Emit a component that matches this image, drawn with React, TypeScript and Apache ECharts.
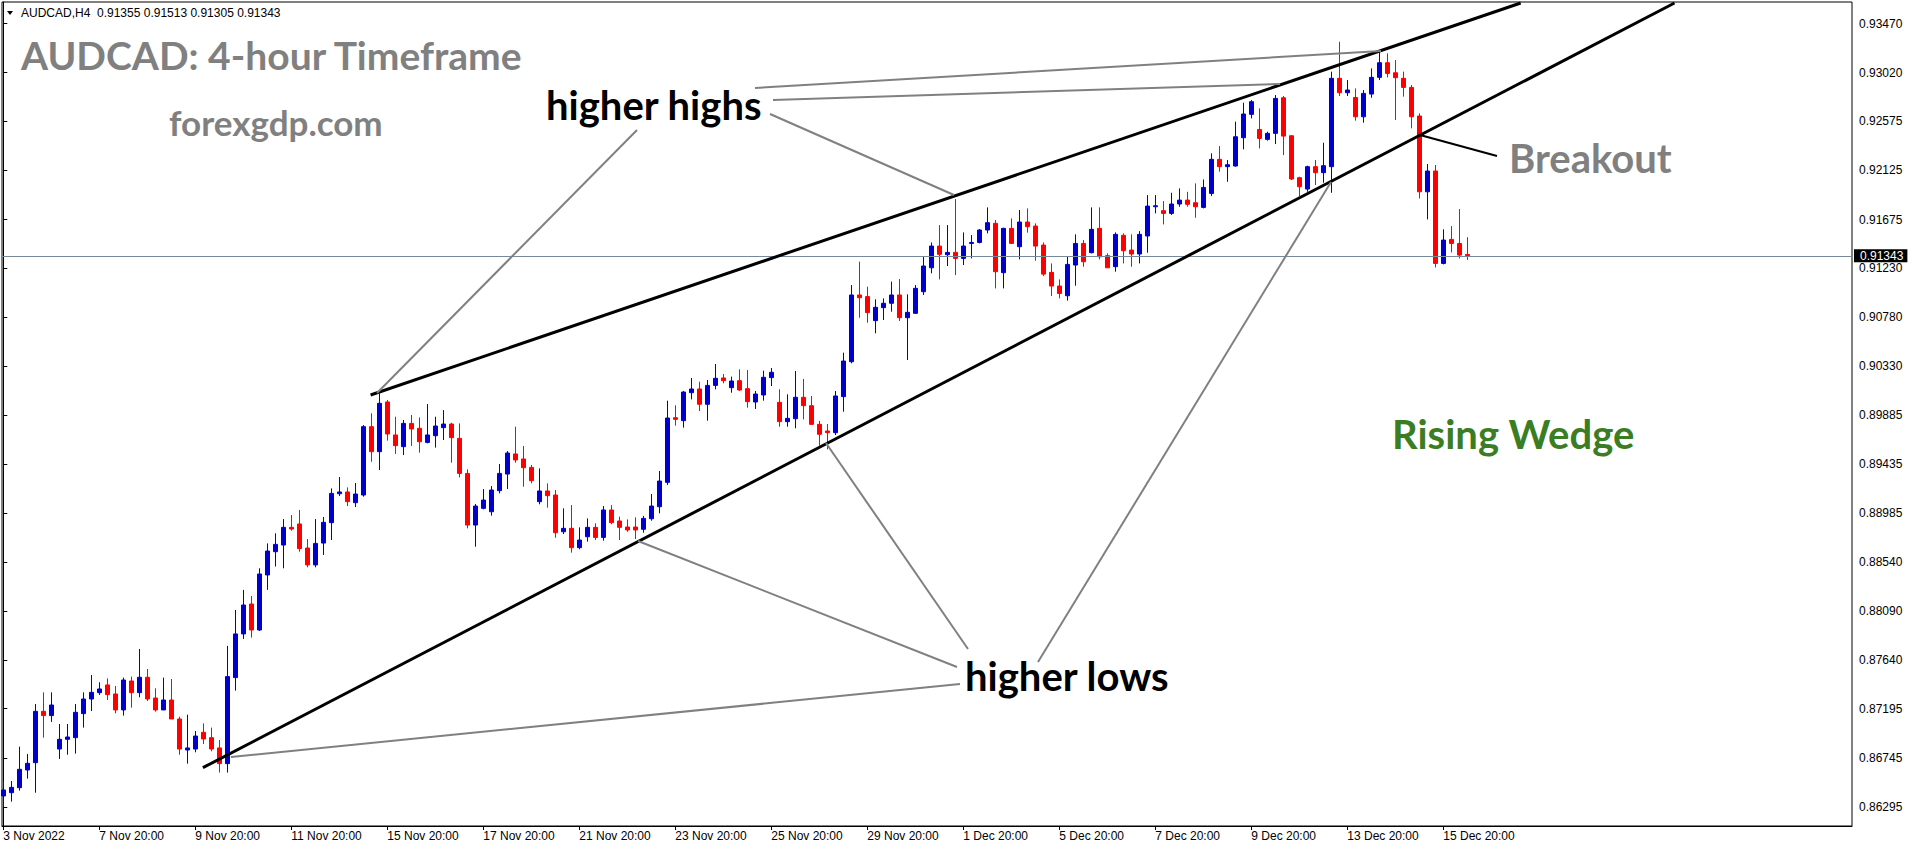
import React, { useEffect, useRef } from 'react';
import * as echarts from 'echarts';

// ---- Data (AUDCAD H4, bar index 0 = 3 Nov 2022 20:00) ----
const opens = [
  0.86396, 0.86426, 0.86472, 0.86634, 0.86701, 0.87171, 0.87132, 0.86826, 0.86915, 0.86930,
  0.87150, 0.87284, 0.87342, 0.87413, 0.87330, 0.87184, 0.87449, 0.87342, 0.87483, 0.87293,
  0.87184, 0.87275, 0.87101, 0.86817, 0.86826, 0.86979, 0.86930, 0.86836, 0.86692, 0.87480,
  0.87880, 0.88154, 0.87916, 0.88420, 0.88633, 0.88694, 0.88856, 0.88887, 0.88667, 0.88512,
  0.88712, 0.88899, 0.89164, 0.89180, 0.89082, 0.89152, 0.89778, 0.89549, 0.90004, 0.89702,
  0.89595, 0.89808, 0.89763, 0.89634, 0.89695, 0.89769, 0.89802, 0.89671, 0.89350, 0.88877,
  0.89030, 0.88999, 0.89192, 0.89344, 0.89528, 0.89482, 0.89405, 0.89091, 0.89189, 0.89152,
  0.88816, 0.88847, 0.88670, 0.88770, 0.88856, 0.88764, 0.89015, 0.88914, 0.88859, 0.88859,
  0.88838, 0.88935, 0.89045, 0.89268, 0.89860, 0.89833, 0.90089, 0.90123, 0.89983, 0.90156,
  0.90224, 0.90135, 0.90199, 0.90126, 0.90004, 0.90068, 0.90227, 0.90001, 0.89824, 0.89851,
  0.90047, 0.89970, 0.89799, 0.89738, 0.89723, 0.90053, 0.90373, 0.90984, 0.90969, 0.90749,
  0.90868, 0.90908, 0.90984, 0.90776, 0.90816, 0.91014, 0.91233, 0.91432, 0.91353, 0.91374,
  0.91319, 0.91456, 0.91465, 0.91579, 0.91640, 0.91188, 0.91594, 0.91426, 0.91652, 0.91615,
  0.91441, 0.91191, 0.91066, 0.90977, 0.91258, 0.91456, 0.91371, 0.91594, 0.91344, 0.91243,
  0.91530, 0.91395, 0.91359, 0.91524, 0.91792, 0.91756, 0.91731, 0.91817, 0.91853, 0.91829,
  0.91786, 0.91914, 0.92226, 0.92159, 0.92165, 0.92424, 0.92638, 0.92500, 0.92409, 0.92464,
  0.92790, 0.92442, 0.92058, 0.91954, 0.92159, 0.92104, 0.92159, 0.92968, 0.92836, 0.92793,
  0.92616, 0.92824, 0.92977, 0.93111, 0.93019, 0.92968, 0.92885, 0.92623, 0.91929, 0.92119,
  0.91273, 0.91493, 0.91456, 0.91355
];
const highs = [
  0.86533, 0.86533, 0.86848, 0.86781, 0.87238, 0.87345, 0.87345, 0.87055, 0.87055, 0.87238,
  0.87345, 0.87504, 0.87437, 0.87473, 0.87403, 0.87480, 0.87489, 0.87742, 0.87559, 0.87382,
  0.87480, 0.87467, 0.87122, 0.87141, 0.86991, 0.87061, 0.87022, 0.86909, 0.87770, 0.88099,
  0.88283, 0.88228, 0.88481, 0.88709, 0.88801, 0.88932, 0.88969, 0.89015, 0.88749, 0.88932,
  0.88951, 0.89213, 0.89317, 0.89222, 0.89262, 0.89793, 0.89900, 0.90083, 0.90022, 0.89869,
  0.89839, 0.89885, 0.89863, 0.89985, 0.89869, 0.89930, 0.89814, 0.89808, 0.89387, 0.89070,
  0.89207, 0.89234, 0.89436, 0.89555, 0.89778, 0.89601, 0.89427, 0.89396, 0.89259, 0.89198,
  0.89030, 0.89060, 0.88856, 0.88938, 0.88893, 0.89051, 0.89060, 0.88954, 0.88929, 0.88947,
  0.88960, 0.89161, 0.89372, 0.90016, 0.89973, 0.90105, 0.90224, 0.90190, 0.90205, 0.90352,
  0.90260, 0.90236, 0.90303, 0.90297, 0.90105, 0.90291, 0.90315, 0.90120, 0.90074, 0.90288,
  0.90215, 0.90059, 0.89830, 0.89802, 0.90105, 0.90456, 0.91075, 0.91289, 0.91060, 0.90944,
  0.90953, 0.91106, 0.91130, 0.90990, 0.91075, 0.91340, 0.91465, 0.91624, 0.91624, 0.91862,
  0.91557, 0.91533, 0.91588, 0.91786, 0.91670, 0.91600, 0.91685, 0.91762, 0.91777, 0.91640,
  0.91465, 0.91273, 0.91127, 0.91340, 0.91539, 0.91487, 0.91786, 0.91786, 0.91365, 0.91557,
  0.91548, 0.91539, 0.91569, 0.91899, 0.91899, 0.91844, 0.91920, 0.91960, 0.91929, 0.92006,
  0.92042, 0.92281, 0.92348, 0.92220, 0.92571, 0.92745, 0.92769, 0.92693, 0.92479, 0.92815,
  0.92806, 0.92449, 0.92067, 0.92168, 0.92220, 0.92378, 0.93029, 0.93303, 0.92952, 0.92876,
  0.92861, 0.93059, 0.93212, 0.93197, 0.93135, 0.93029, 0.92907, 0.92647, 0.92183, 0.92174,
  0.91585, 0.91615, 0.91771, 0.91513
];
const lows = [
  0.86298, 0.86344, 0.86445, 0.86555, 0.86426, 0.86930, 0.87074, 0.86735, 0.86774, 0.86784,
  0.87022, 0.87174, 0.87321, 0.87275, 0.87153, 0.87132, 0.87205, 0.87300, 0.87266, 0.87168,
  0.87184, 0.87101, 0.86774, 0.86692, 0.86796, 0.86872, 0.86805, 0.86610, 0.86610, 0.87361,
  0.87834, 0.87846, 0.87907, 0.88283, 0.88497, 0.88481, 0.88825, 0.88633, 0.88490, 0.88490,
  0.88603, 0.88740, 0.89143, 0.89051, 0.89042, 0.89137, 0.89457, 0.89381, 0.89650, 0.89528,
  0.89518, 0.89601, 0.89540, 0.89625, 0.89586, 0.89656, 0.89448, 0.89314, 0.88847, 0.88679,
  0.89021, 0.88963, 0.89167, 0.89207, 0.89448, 0.89228, 0.89259, 0.89067, 0.89036, 0.88761,
  0.88795, 0.88624, 0.88655, 0.88725, 0.88740, 0.88734, 0.88884, 0.88740, 0.88816, 0.88749,
  0.88807, 0.88917, 0.88984, 0.89244, 0.89787, 0.89769, 0.90028, 0.89921, 0.89833, 0.90120,
  0.90175, 0.90089, 0.90105, 0.89952, 0.89940, 0.90016, 0.90150, 0.89778, 0.89778, 0.89763,
  0.89845, 0.89793, 0.89604, 0.89570, 0.89702, 0.89915, 0.90358, 0.90776, 0.90730, 0.90633,
  0.90755, 0.90831, 0.90746, 0.90388, 0.90810, 0.90984, 0.91182, 0.91127, 0.91249, 0.91166,
  0.91258, 0.91319, 0.91456, 0.91548, 0.91044, 0.91044, 0.91450, 0.91310, 0.91554, 0.91298,
  0.91157, 0.90974, 0.90953, 0.90932, 0.91069, 0.91243, 0.91365, 0.91310, 0.91233, 0.91197,
  0.91273, 0.91243, 0.91273, 0.91371, 0.91731, 0.91630, 0.91716, 0.91792, 0.91792, 0.91691,
  0.91777, 0.91890, 0.92113, 0.92021, 0.92159, 0.92317, 0.92601, 0.92326, 0.92397, 0.92366,
  0.92265, 0.92036, 0.91890, 0.91929, 0.91991, 0.92012, 0.91920, 0.92806, 0.92806, 0.92580,
  0.92562, 0.92790, 0.92952, 0.92977, 0.92586, 0.92800, 0.92510, 0.91868, 0.91676, 0.91236,
  0.91264, 0.91374, 0.91319, 0.91305
];
const closes = [
  0.86451, 0.86475, 0.86640, 0.86695, 0.87171, 0.87132, 0.87229, 0.86915, 0.86936, 0.87162,
  0.87284, 0.87345, 0.87376, 0.87324, 0.87184, 0.87458, 0.87342, 0.87483, 0.87284, 0.87184,
  0.87275, 0.87101, 0.86826, 0.86836, 0.86945, 0.86918, 0.86826, 0.86692, 0.87489, 0.87880,
  0.88145, 0.87916, 0.88429, 0.88639, 0.88700, 0.88856, 0.88841, 0.88661, 0.88512, 0.88709,
  0.88902, 0.89167, 0.89180, 0.89091, 0.89161, 0.89778, 0.89549, 0.89992, 0.89711, 0.89604,
  0.89808, 0.89757, 0.89640, 0.89702, 0.89784, 0.89802, 0.89677, 0.89350, 0.88877, 0.89051,
  0.89106, 0.89198, 0.89350, 0.89537, 0.89473, 0.89402, 0.89283, 0.89189, 0.89146, 0.88807,
  0.88847, 0.88670, 0.88740, 0.88856, 0.88764, 0.89015, 0.88899, 0.88856, 0.88832, 0.88832,
  0.88938, 0.89051, 0.89280, 0.89857, 0.89845, 0.90095, 0.90123, 0.89983, 0.90156, 0.90221,
  0.90199, 0.90196, 0.90114, 0.90007, 0.90077, 0.90230, 0.90276, 0.89824, 0.89854, 0.90047,
  0.89970, 0.89799, 0.89708, 0.89723, 0.90059, 0.90379, 0.90984, 0.90959, 0.90822, 0.90871,
  0.90908, 0.90984, 0.90776, 0.90825, 0.91045, 0.91249, 0.91432, 0.91356, 0.91374, 0.91319,
  0.91432, 0.91465, 0.91579, 0.91646, 0.91197, 0.91594, 0.91456, 0.91652, 0.91609, 0.91432,
  0.91175, 0.91066, 0.90998, 0.91264, 0.91456, 0.91288, 0.91585, 0.91334, 0.91233, 0.91539,
  0.91389, 0.91359, 0.91539, 0.91798, 0.91801, 0.91731, 0.91817, 0.91853, 0.91814, 0.91792,
  0.91969, 0.92226, 0.92159, 0.92177, 0.92433, 0.92641, 0.92754, 0.92418, 0.92464, 0.92784,
  0.92439, 0.92046, 0.91975, 0.92159, 0.92104, 0.92168, 0.92968, 0.92836, 0.92861, 0.92616,
  0.92830, 0.92977, 0.93111, 0.93013, 0.92974, 0.92885, 0.92616, 0.91929, 0.92119, 0.91273,
  0.91487, 0.91456, 0.91349, 0.91343
];

const xTickIdx = [0, 12, 24, 36, 48, 60, 72, 84, 96, 108, 120, 132, 144, 156, 168, 180];
const xTickLabels = [
  '3 Nov 2022', '7 Nov 20:00', '9 Nov 20:00', '11 Nov 20:00', '15 Nov 20:00', '17 Nov 20:00',
  '21 Nov 20:00', '23 Nov 20:00', '25 Nov 20:00', '29 Nov 20:00', '1 Dec 20:00', '5 Dec 20:00',
  '7 Dec 20:00', '9 Dec 20:00', '13 Dec 20:00', '15 Dec 20:00'
];
const yTicks = [
  0.86295, 0.86745, 0.87195, 0.8764, 0.8809, 0.8854, 0.88985, 0.89435, 0.89885, 0.9033,
  0.9078, 0.9123, 0.91675, 0.92125, 0.92575, 0.9302, 0.9347
];
const lastPrice = 0.91343;
const headerText = 'AUDCAD,H4  0.91355 0.91513 0.91305 0.91343';

// wedge trendlines in (bar index, price)
const upperWedge = [[45.91, 0.90068], [189.67, 0.93658]];
const lowerWedge = [[24.95, 0.86655], [208.9, 0.93658]];

export default function App() {
  const ref = useRef<HTMLDivElement>(null);
  useEffect(() => {
    document.body.style.margin = '0';
    const chart = echarts.init(ref.current!, null, { renderer: 'svg' });
    const candles = opens.map((o, i) => [i, o, closes[i], lows[i], highs[i]]);
    const gray = '#808080';
    const gline = (x1: number, y1: number, x2: number, y2: number, color = gray, w = 2) => ({
      type: 'line', z: 50, silent: true,
      shape: { x1, y1, x2, y2 },
      style: { stroke: color, lineWidth: w },
    });
    const txt = (text: string, x: number, y: number, font: string, fill: string) => ({
      type: 'text', z: 60, silent: true,
      style: { text, x, y, font, fill, textVerticalAlign: 'middle', textAlign: 'left' },
    });
    const option: any = {
      animation: false,
      backgroundColor: '#fff',
      grid: { left: 2, top: 2, width: 1850, height: 824, show: true, borderColor: '#000', borderWidth: 1, backgroundColor: '#fff' },
      xAxis: {
        type: 'value', min: -0.1625, max: 231.0875,
        splitLine: { show: false },
        axisLine: { show: true, lineStyle: { color: '#000', width: 1 } },
        axisTick: { show: true, customValues: xTickIdx, length: 4, lineStyle: { color: '#000' } },
        axisLabel: {
          customValues: xTickIdx, color: '#000', fontSize: 12, fontFamily: 'Liberation Sans',
          align: 'left', margin: 4,
          formatter: (v: number) => xTickLabels[xTickIdx.indexOf(Math.round(v))] || '',
        },
      },
      yAxis: {
        type: 'value', position: 'right', min: 0.86121, max: 0.93667, scale: true,
        splitLine: { show: false },
        axisLine: { show: true, lineStyle: { color: '#000', width: 1 } },
        axisTick: { show: true, customValues: yTicks, length: 4, lineStyle: { color: '#000' } },
        axisLabel: {
          customValues: yTicks, color: '#000', fontSize: 12, fontFamily: 'Liberation Sans', margin: 7,
          formatter: (v: number) => v.toFixed(5),
        },
      },
      series: [
        {
          type: 'candlestick',
          data: candles,
          encode: { x: 0, y: [1, 2, 3, 4] },
          barWidth: 4,
          itemStyle: { color: '#0000cd', color0: '#ff0000', borderColor: '#0000cd', borderColor0: '#ff0000', borderWidth: 1 },
          markLine: {
            silent: true, symbol: ['none', 'none'], animation: false, precision: 5,
            data: [
              {
                yAxis: lastPrice,
                lineStyle: { color: '#778899', width: 1, type: 'solid' },
                label: {
                  show: true, position: 'end', distance: 2, formatter: lastPrice.toFixed(5),
                  backgroundColor: '#000', color: '#fff', fontSize: 12, fontFamily: 'Liberation Sans', padding: [1, 4, 0, 6],
                },
              },
              [
                { coord: upperWedge[0], lineStyle: { color: '#000', width: 3, type: 'solid' }, label: { show: false } },
                { coord: upperWedge[1] },
              ],
              [
                { coord: lowerWedge[0], lineStyle: { color: '#000', width: 3, type: 'solid' }, label: { show: false } },
                { coord: lowerWedge[1] },
              ],
            ],
          },
        },
      ],
      graphic: [
        { type: 'polygon', z: 60, silent: true, shape: { points: [[7, 11], [13, 11], [10, 15]] }, style: { fill: '#000' } },
        txt(headerText, 21, 13, '12px "Liberation Sans"', '#000'),
        txt('AUDCAD: 4-hour Timeframe', 21, 55, 'bold 39px Lato', gray),
        txt('forexgdp.com', 169, 122, 'bold 35px Lato', gray),
        txt('higher highs', 546, 105, 'bold 40px Lato', '#000'),
        txt('higher lows', 965, 676, 'bold 40px Lato', '#000'),
        txt('Breakout', 1509, 158, 'bold 40px Lato', gray),
        txt('Rising Wedge', 1392, 434, 'bold 40px Lato', '#3b7d23'),
        // leader lines: higher highs
        gline(637, 130, 377, 393),
        gline(755, 88, 1381, 51),
        gline(773, 100, 1280, 84),
        gline(770, 114, 954, 195),
        // leader lines: higher lows
        gline(638, 541, 957, 667),
        gline(826, 443, 968, 649),
        gline(1038, 662, 1331, 182),
        gline(960, 684, 231, 757),
        // breakout pointer
        gline(1420, 135, 1497, 156, '#000', 2),
      ],
    };
    chart.setOption(option);
    return () => chart.dispose();
  }, []);
  return <div ref={ref} style={{ width: 1916, height: 850 }} />;
}
